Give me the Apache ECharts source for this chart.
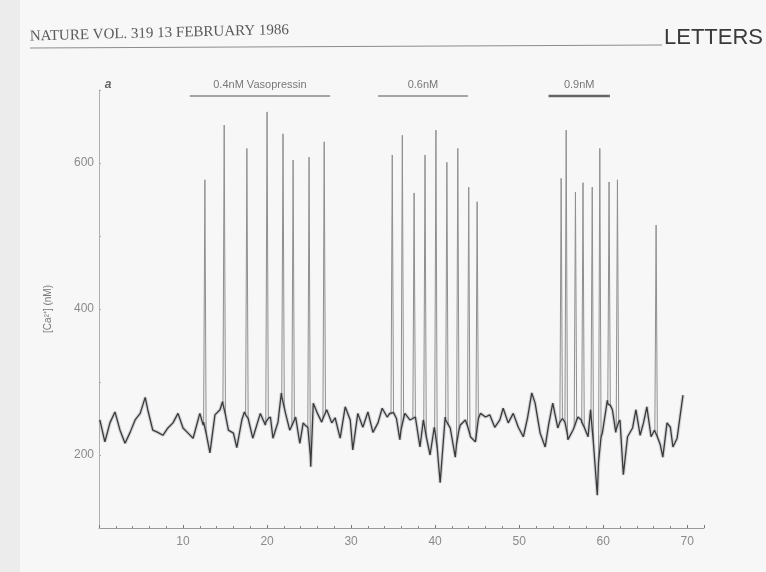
<!DOCTYPE html>
<html>
<head>
<meta charset="utf-8">
<script src="https://cdn.jsdelivr.net/npm/echarts@6/dist/echarts.min.js"></script>
<style>
  html, body { margin: 0; padding: 0; background: #f7f7f7; }
  #chart { width: 766px; height: 572px; }
</style>
</head>
<body>
<div id="chart"></div>
<script>
// time (min) and baseline [Ca2+] (nM)
const traceT = [0.1, 0.7, 1.3, 1.9, 2.5, 3.1, 3.7, 4.3, 4.9, 5.5, 5.8, 6.4, 7.0, 7.6, 8.2, 8.8, 9.4, 10.0,
  10.6, 11.2, 12.0, 12.4, 13.2, 13.8, 14.4, 14.7, 15.4, 16.0, 16.4, 17.0, 17.3, 17.9, 18.3, 19.2, 19.8,
  20.4, 20.7, 21.3, 21.7, 22.2, 22.7, 23.4, 23.9, 24.3, 24.6, 25.2, 25.5, 26.0, 26.5, 27.1, 27.7, 28.1,
  28.7, 29.3, 29.9, 30.2, 30.8, 31.4, 32.0, 32.6, 33.2, 33.7, 34.3, 34.6, 35.4, 35.8, 36.4, 37.0, 37.7,
  38.2, 38.6, 39.4, 39.9, 40.6, 41.2, 41.8, 42.4, 43.0, 43.6, 44.2, 44.8, 45.4, 46.0, 46.5, 47.1, 47.7,
  48.1, 48.7, 49.3, 49.9, 50.5, 51.0, 51.5, 51.9, 52.5, 53.1, 53.5, 54.0, 54.6, 55.2, 55.8, 56.4, 57.0,
  57.4, 58.2, 58.5, 59.3, 59.9, 60.5, 61.1, 61.5, 62.0, 62.4, 62.9, 63.5, 63.9, 64.4, 64.8, 65.2, 65.7,
  66.1, 66.8, 67.1, 67.6, 68.0, 68.3, 68.8, 69.2, 69.5]
const traceCa = [248, 218, 244, 259, 234, 216, 231, 248, 257, 279, 262, 234, 231, 227, 237, 244, 257, 237,
  230, 223, 257, 241, 203, 255, 262, 273, 234, 230, 210, 248, 259, 248, 223, 257, 241,
  252, 223, 245, 285, 257, 234, 252, 216, 244, 240, 184, 271, 257, 245, 262, 244, 251,
  223, 266, 248, 207, 257, 238, 259, 231, 244, 264, 252, 257, 250, 221, 257, 248, 252,
  211, 248, 200, 238, 162, 252, 237, 197, 241, 248, 225, 218, 257, 252, 255, 238, 248,
  264, 244, 257, 238, 225, 251, 285, 271, 230, 211, 241, 271, 237, 252, 221, 234, 252,
  248, 225, 262, 145, 230, 275, 262, 231, 248, 173, 225, 237, 262, 227, 244, 266, 225,
  234, 214, 197, 244, 238, 211, 223, 257, 282]

// transient spikes: time, peak, and trace level just before / after each one
const spikeT = [12.6, 14.9, 17.6, 20.0, 21.9, 23.1, 25.0, 26.8,
  34.9, 36.1, 37.5, 38.8, 40.1, 41.4, 42.7, 44.0, 45.0,
  55.0, 55.6, 56.7, 57.6, 58.7, 59.6, 60.7, 61.7, 66.3]
const spikePeak = [577, 652, 620, 670, 640, 604, 608, 629,
  611, 638, 559, 611, 645, 601, 620, 567, 547,
  579, 645, 560, 573, 567, 620, 574, 577, 515]
const spikeFootPre = [245, 270, 255, 245, 280, 240, 238, 250,
  255, 235, 250, 245, 235, 248, 215, 240, 220,
  245, 245, 238, 245, 255, 190, 270, 235, 232]
const spikeFootPost = [230, 255, 250, 250, 265, 248, 200, 258,
  258, 250, 252, 225, 210, 242, 235, 228, 250,
  250, 228, 248, 238, 215, 225, 268, 245, 225]

// vasopressin applications
const doses = ['0.4nM Vasopressin', '0.6nM', '0.9nM']
const doseStart = [10.8, 33.2, 53.5]
const doseEnd = [27.5, 43.9, 60.8]

const xTickLabels = [10, 20, 30, 40, 50, 60, 70]
const yTickLabels = [200, 400, 600]

const halfWidth = 0.15
const spikes = spikeT.map((t, i) => ({
  coords: [[t - halfWidth, spikeFootPre[i]], [t, spikePeak[i]], [t + halfWidth, spikeFootPost[i]]]
}))
const trace = traceT.map((t, i) => [t, traceCa[i]])
  .concat(spikeT.map((t, i) => [t - halfWidth, spikeFootPre[i]]))
  .concat(spikeT.map((t, i) => [t + halfWidth, spikeFootPost[i]]))
  .sort((a, b) => a[0] - b[0])

const grey = '#8a8a8a'
const myChart = echarts.init(document.getElementById('chart'))
myChart.setOption({
  backgroundColor: '#f7f7f7',
  animation: false,
  grid: { left: 99, right: 62, top: 90, bottom: 44 },
  xAxis: {
    type: 'value',
    min: 0,
    max: 72,
    interval: 10,
    axisLine: { lineStyle: { color: '#9a9a9a', width: 1 } },
    axisTick: { inside: true, length: 3, lineStyle: { color: '#777' } },
    minorTick: { show: true, splitNumber: 5, length: 2, lineStyle: { color: '#888' } },
    splitLine: { show: false },
    axisLabel: {
      color: grey,
      fontSize: 12,
      fontFamily: 'Liberation Sans',
      margin: 8,
      formatter: v => (xTickLabels.includes(v) ? String(v) : '')
    }
  },
  yAxis: {
    type: 'value',
    min: 100,
    max: 700,
    interval: 100,
    name: '[Ca²⁺] (nM)',
    nameLocation: 'middle',
    nameGap: 46,
    nameTextStyle: { color: '#777', fontSize: 10, fontFamily: 'Liberation Sans' },
    axisLine: { show: true, lineStyle: { color: '#b0b0b0', width: 1 } },
    axisTick: { show: true, inside: true, length: 2, lineStyle: { color: '#aaa' } },
    splitLine: { show: false },
    axisLabel: {
      color: grey,
      fontSize: 12,
      fontFamily: 'Liberation Sans',
      margin: 5,
      formatter: v => (yTickLabels.includes(v) ? String(v) : '')
    }
  },
  series: [
    {
      type: 'lines',
      coordinateSystem: 'cartesian2d',
      polyline: true,
      data: spikes,
      lineStyle: { color: '#8f8f8f', width: 1, opacity: 1 },
      z: 1
    },
    {
      // soft halo under the trace, like the blur of the scan
      type: 'line',
      data: trace,
      showSymbol: false,
      silent: true,
      lineStyle: { color: '#8a8f99', width: 3.5, opacity: 0.35 },
      z: 2
    },
    {
      type: 'line',
      data: trace,
      showSymbol: false,
      lineStyle: { color: '#3a3a3a', width: 1.3 },
      z: 3
    }
  ]
})

// header and dose bars
const graphics = [
  { type: 'rect', shape: { x: 0, y: 0, width: 20, height: 572 }, style: { fill: '#ececec' }, z: -1 },
  {
    type: 'text', x: 30, y: 44, rotation: 0.025,
    style: { text: 'NATURE VOL. 319 13 FEBRUARY 1986', fill: '#5a5a5a', font: '15px "Liberation Serif"', textVerticalAlign: 'bottom' }
  },
  {
    type: 'line', shape: { x1: 30, y1: 48, x2: 662, y2: 45 },
    style: { stroke: '#8c8c8c', lineWidth: 1 }
  },
  {
    type: 'text', x: 664, y: 49,
    style: { text: 'LETTERS', fill: '#3a3a3a', font: '22px "Liberation Sans"', textVerticalAlign: 'bottom' }
  },
  {
    type: 'text', x: 108, y: 85,
    style: { text: 'a', fill: '#666', font: 'italic bold 12px "Liberation Sans"', textAlign: 'center', textVerticalAlign: 'middle' }
  }
]
doses.forEach((label, i) => {
  const x1 = myChart.convertToPixel({ xAxisIndex: 0 }, doseStart[i])
  const x2 = myChart.convertToPixel({ xAxisIndex: 0 }, doseEnd[i])
  graphics.push({
    type: 'line', shape: { x1: x1, y1: 96, x2: x2, y2: 96 },
    style: { stroke: i === 2 ? '#666' : '#8a8a8a', lineWidth: i === 2 ? 2.5 : 1.5 }
  })
  graphics.push({
    type: 'text', x: (x1 + x2) / 2, y: 85,
    style: { text: label, fill: '#777', font: '11px "Liberation Sans"', textAlign: 'center', textVerticalAlign: 'middle' }
  })
})
myChart.setOption({ graphic: graphics })
</script>
</body>
</html>
